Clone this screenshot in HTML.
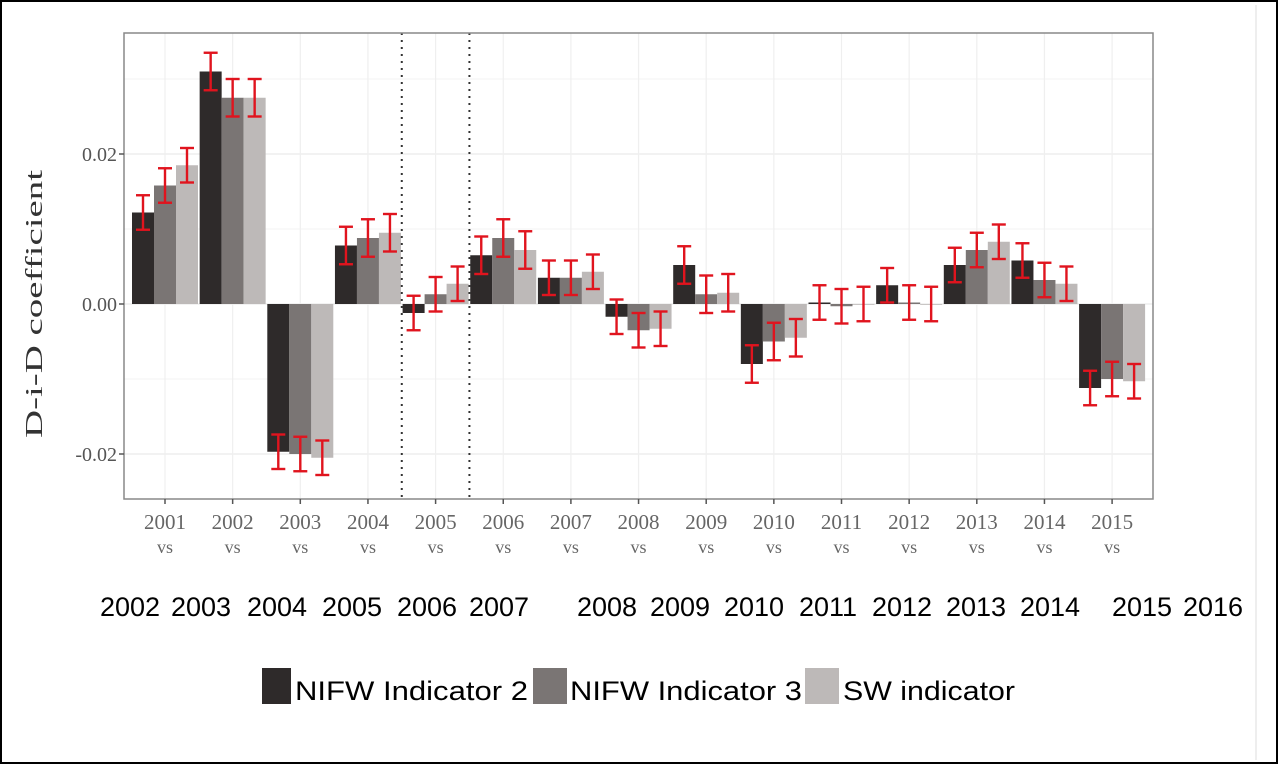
<!DOCTYPE html>
<html><head><meta charset="utf-8">
<style>
body{margin:0;background:#fff;}
#wrap{position:relative;width:1280px;height:765px;overflow:hidden;background:#fff;}
</style></head>
<body>
<div id="wrap">
<svg id="chart" width="1280" height="765" xmlns="http://www.w3.org/2000/svg">
<rect x="1" y="1" width="1276" height="762" fill="none" stroke="#000" stroke-width="2"/>
<line x1="1256" y1="5" x2="1256" y2="760" stroke="#eee" stroke-width="2"/>
<g id="grid"></g>
<g id="bars"></g>
<g id="errs"></g>
<g id="axes"></g>
<text x="42" y="304" transform="rotate(-90 42 304)" text-anchor="middle" font-family="Liberation Serif, serif" font-size="24" fill="#333" textLength="268" lengthAdjust="spacingAndGlyphs">D-i-D coefficient</text>
<g id="biglabels"></g>
<g>
<rect x="262" y="668" width="29" height="36" fill="#2e2a2a"/>
<text x="295" y="700" font-family="Liberation Sans, sans-serif" font-size="27" fill="#000" textLength="233" lengthAdjust="spacingAndGlyphs">NIFW Indicator 2</text>
<rect x="533" y="668" width="34" height="36" fill="#7a7574"/>
<text x="570" y="700" font-family="Liberation Sans, sans-serif" font-size="27" fill="#000" textLength="232" lengthAdjust="spacingAndGlyphs">NIFW Indicator 3</text>
<rect x="805" y="668" width="34" height="36" fill="#bdb9b8"/>
<text x="843" y="700" font-family="Liberation Sans, sans-serif" font-size="27" fill="#000" textLength="172" lengthAdjust="spacingAndGlyphs">SW indicator</text>
</g>
</svg>
</div>
<script>
const categories=["2001","2002","2003","2004","2005","2006","2007","2008","2009","2010","2011","2012","2013","2014","2015"];
const nifw2=[0.0122,0.0310,-0.0197,0.0078,-0.0012,0.0065,0.0035,-0.0017,0.0052,-0.0080,0.0002,0.0025,0.0052,0.0058,-0.0112];
const nifw3=[0.0158,0.0275,-0.0200,0.0088,0.0013,0.0088,0.0035,-0.0035,0.0013,-0.0050,-0.0003,0.0002,0.0072,0.0032,-0.0100];
const sw=[0.0185,0.0275,-0.0205,0.0095,0.0027,0.0072,0.0043,-0.0033,0.0015,-0.0045,0.0000,0.0000,0.0083,0.0027,-0.0103];
const errHalf=[0.0023,0.0025,0.0023,0.0025,0.0023,0.0025,0.0023,0.0023,0.0025,0.0025,0.0023,0.0023,0.0023,0.0023,0.0023];
const yTicks=[-0.02,0,0.02];
const yTickLabels=["-0.02","0.00","0.02"];
const bigLabels=["2002","2003","2004","2005","2006","2007","2008","2009","2010","2011","2012","2013","2014","2015","2016"];
const bigLabelX=[130,201,277,352,427,499,607,680,754,828,902,976,1050,1142,1213];

const NS="http://www.w3.org/2000/svg";
const L=124,R=1153,T=33,B=499;
const x0=165,step=67.65;
function xScale(i){return x0+i*step;}
function yScale(v){return 304-v*7500;}
function mk(tag,attrs,parent){const e=document.createElementNS(NS,tag);for(const k in attrs)e.setAttribute(k,attrs[k]);parent.appendChild(e);return e;}
const grid=document.getElementById('grid'),bars=document.getElementById('bars'),errs=document.getElementById('errs'),axes=document.getElementById('axes'),big=document.getElementById('biglabels');
[-0.03,-0.01,0.01,0.03].forEach(v=>{const y=yScale(v);if(y>T&&y<B){const l=mk('line',{x1:L,x2:R,y1:y,y2:y,stroke:'#f3f3f3','stroke-width':1},grid);

}});
yTicks.forEach(v=>{const y=yScale(v);const l=mk('line',{x1:L,x2:R,y1:y,y2:y,stroke:'#ebebeb','stroke-width':1.2},grid);

});
categories.forEach((c,i)=>{const x=xScale(i);const l=mk('line',{x1:x,x2:x,y1:T,y2:B,stroke:'#efefef','stroke-width':1.2},grid);

});
const series=[nifw2,nifw3,sw],colors=['#2e2a2a','#7a7574','#bdb9b8'],names=['nifw2','nifw3','sw'];
const bw=22;
series.forEach((s,k)=>{s.forEach((v,i)=>{
 const cx=xScale(i)+(k-1)*bw;const y0=yScale(0),y1=yScale(v);
 const r=mk('rect',{x:cx-bw/2,y:Math.min(y0,y1),width:bw,height:Math.max(0.8,Math.abs(y1-y0)),fill:colors[k]},bars);
 
 
 const e=errHalf[i];const ya=yScale(v+e),yb=yScale(v-e);
 const g=mk('g',{stroke:'#e0141e','stroke-width':2.4},errs);
 
 
 mk('line',{x1:cx,x2:cx,y1:ya,y2:yb},g);
 mk('line',{x1:cx-7,x2:cx+7,y1:ya,y2:ya},g);
 mk('line',{x1:cx-7,x2:cx+7,y1:yb,y2:yb},g);
});});
[3.5,4.5].forEach(p=>{const x=xScale(p);const l=mk('line',{x1:x,x2:x,y1:T,y2:B,stroke:'#333','stroke-width':2,'stroke-dasharray':'2 5'},axes);

});
const fr=mk('rect',{x:L,y:T,width:R-L,height:B-T,fill:'none',stroke:'#888','stroke-width':1.5},axes);


yTicks.forEach((v,i)=>{const y=yScale(v);mk('line',{x1:L-5,x2:L,y1:y,y2:y,stroke:'#555','stroke-width':1.5},axes);
 const t=mk('text',{x:L-7,y:y+7,'text-anchor':'end','font-family':'Liberation Serif, serif','font-size':20,fill:'#555'},axes);
 t.textContent=yTickLabels[i];
 
 });
categories.forEach((c,i)=>{const x=xScale(i);mk('line',{x1:x,x2:x,y1:B,y2:B+5,stroke:'#555','stroke-width':1.5},axes);
 const t=mk('text',{x:x,y:529,'text-anchor':'middle','font-family':'Liberation Serif, serif','font-size':21,fill:'#666'},axes);
 t.textContent=c;
 
 
 const v=mk('text',{x:x,y:553,'text-anchor':'middle','font-family':'Liberation Serif, serif','font-size':18,fill:'#666'},axes);
 v.textContent='vs';
 
 });
bigLabels.forEach((s,i)=>{const t=mk('text',{x:bigLabelX[i],y:616,'text-anchor':'middle','font-family':'Liberation Sans, sans-serif','font-size':27,fill:'#000'},big);
 t.textContent=s;
 
 });
</script>
</body></html>
